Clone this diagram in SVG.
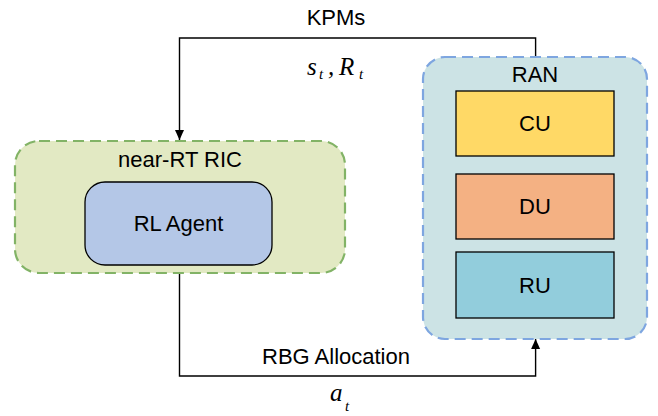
<svg xmlns="http://www.w3.org/2000/svg" width="658" height="416" viewBox="0 0 658 416">
  <defs>
    <marker id="arrow" viewBox="0 0 10 10" refX="10" refY="5" markerWidth="10" markerHeight="10" markerUnits="userSpaceOnUse" orient="auto">
      <path d="M0,0.5 L10,5 L0,9.5 Z" fill="#000"/>
    </marker>
    <style>
      .lbl { font-family: "Liberation Sans", Arial, sans-serif; font-size: 22px; fill: #000; text-anchor: middle; }
      .math { font-family: "Liberation Serif", "Times New Roman", serif; font-style: italic; fill: #000; }
      .link { fill: none; stroke: #000; stroke-width: 1.4; }
      .group { stroke-width: 2.2; stroke-dasharray: 11 6; }
      .box { stroke: #000; stroke-width: 1.3; }
    </style>
  </defs>

  <!-- connectors -->
  <g id="connectors">
    <path class="link" d="M535.6,57 V38 H179.5 V140" marker-end="url(#arrow)"/>
    <path class="link" d="M179.5,273 V376 H535.6 V339" marker-end="url(#arrow)"/>
    <text class="lbl" x="336" y="25">KPMs</text>
    <text class="math" font-size="25" x="307" y="75">s</text>
    <text class="math" font-size="15" x="319" y="79">t</text>
    <text class="math" font-size="25" x="328" y="75">,</text>
    <text class="math" font-size="25" x="339" y="75">R</text>
    <text class="math" font-size="15" x="359" y="79">t</text>
    <text class="lbl" x="336" y="364">RBG Allocation</text>
    <text class="math" font-size="25" x="330" y="401">a</text>
    <text class="math" font-size="15" x="345" y="411">t</text>
  </g>

  <!-- near-RT RIC with RL agent -->
  <g id="near-rt-ric">
    <rect class="group" x="15" y="141" width="330" height="132" rx="24" fill="#E2E9C3" stroke="#82B366"/>
    <text class="lbl" x="180" y="167">near-RT RIC</text>
  </g>
  <g id="rl-agent">
    <rect class="box" x="85" y="182" width="187" height="83" rx="20" fill="#B4C7E7"/>
    <text class="lbl" x="178.5" y="231">RL Agent</text>
  </g>

  <!-- RAN with CU / DU / RU -->
  <g id="ran">
    <rect class="group" x="423" y="57" width="224" height="282" rx="22" fill="#CCE3E5" stroke="#7EA6E0"/>
    <text class="lbl" x="535" y="82">RAN</text>
  </g>
  <g id="cu">
    <rect class="box" x="456" y="91" width="158" height="65" fill="#FFD966"/>
    <text class="lbl" x="535" y="131">CU</text>
  </g>
  <g id="du">
    <rect class="box" x="456" y="174" width="158" height="65" fill="#F4B183"/>
    <text class="lbl" x="535" y="214">DU</text>
  </g>
  <g id="ru">
    <rect class="box" x="456" y="252" width="158" height="66" fill="#92CDDC"/>
    <text class="lbl" x="535" y="293">RU</text>
  </g>
</svg>
